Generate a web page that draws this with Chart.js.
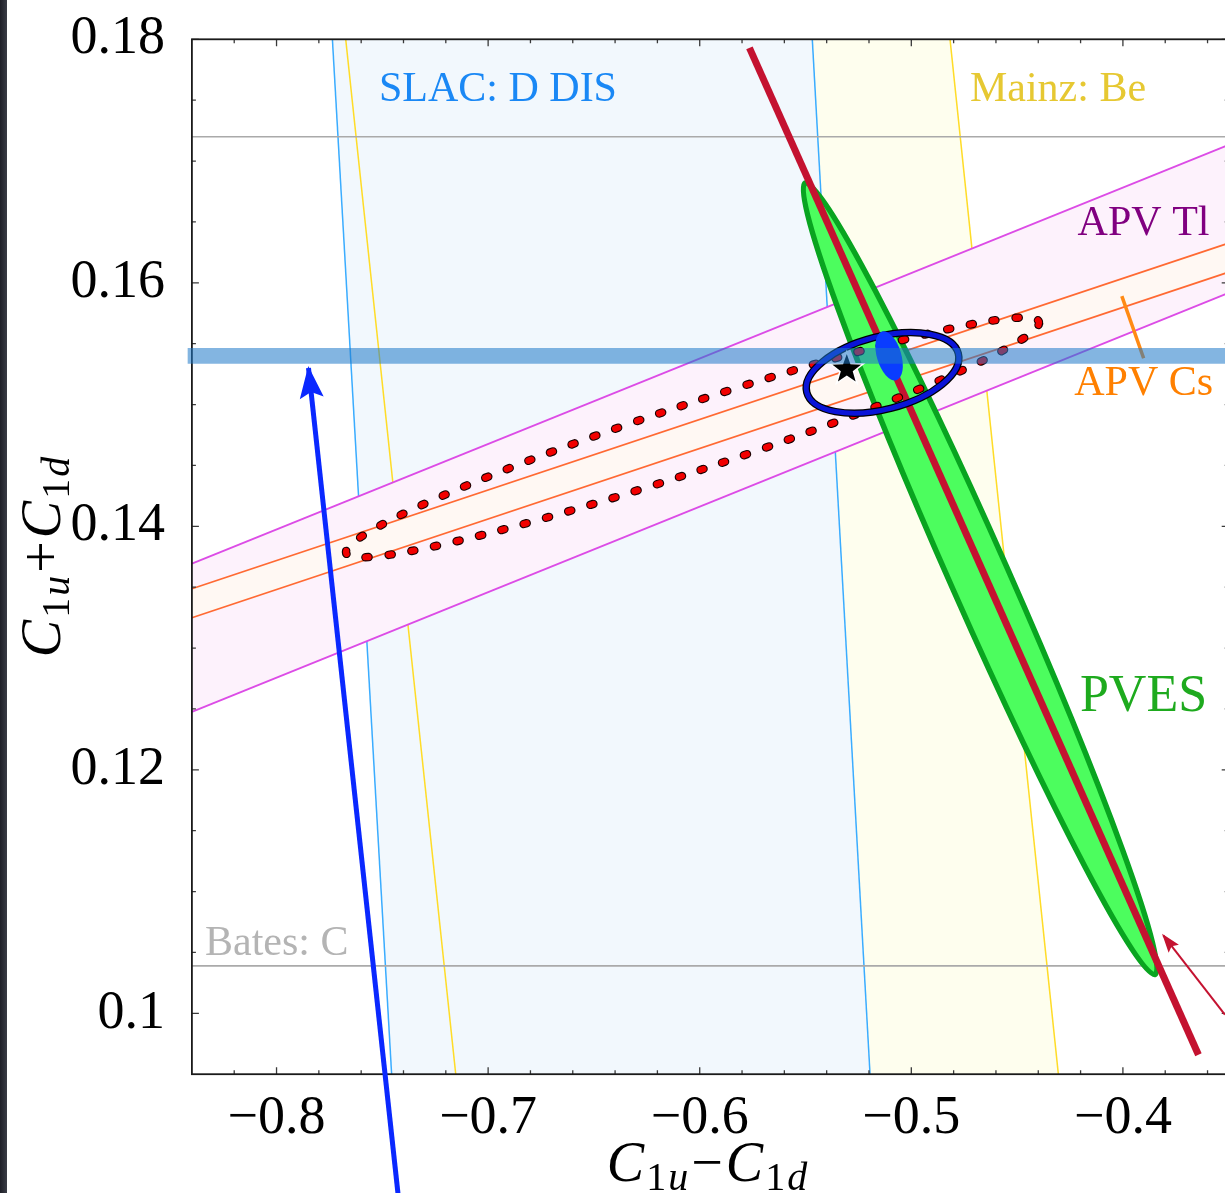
<!DOCTYPE html>
<html>
<head>
<meta charset="utf-8">
<title>C1u - C1d constraints</title>
<script src="https://cdn.jsdelivr.net/npm/chart.js"></script>
<style>
  html, body { margin: 0; padding: 0; overflow: hidden; background: #fff; }
  #wrap { position: relative; width: 1240px; height: 1193px; }
  #edge { position: absolute; left: 0; top: 0; width: 7px; height: 1193px;
          background: linear-gradient(to right, #1d1f27, #3a3d46); }
</style>
</head>
<body>
<div id="wrap">
  <canvas id="c1" width="1240" height="1193"></canvas>
  <div id="edge"></div>
</div>
<script>
// ================================
// Data
// ================================
const xRange = [-0.84, -0.35];
const yRange = [0.095, 0.18];
const xTicks = [-0.8, -0.7, -0.6, -0.5, -0.4];
const xTickLabels = ['\u22120.8', '\u22120.7', '\u22120.6', '\u22120.5', '\u22120.4'];
const yTicks = [0.1, 0.12, 0.14, 0.16, 0.18];
const yTickLabels = ['0.1', '0.12', '0.14', '0.16', '0.18'];
const xMinorTicks = [-0.82, -0.78, -0.76, -0.74, -0.72, -0.68, -0.66, -0.64, -0.62,
                     -0.58, -0.56, -0.54, -0.52, -0.48, -0.46, -0.44, -0.42, -0.38, -0.36];
const yMinorTicks = [0.105, 0.11, 0.115, 0.125, 0.13, 0.135, 0.145, 0.15, 0.155,
                     0.165, 0.17, 0.175];

// near-vertical bands: x at the top edge, x at the bottom edge
const slacLeft = [-0.7736, -0.7456];
const slacRight = [-0.5468, -0.5195];
const mainzLeft = [-0.7673, -0.7153];
const mainzRight = [-0.4817, -0.4305];

// sloped APV bands: y at the left edge, y at the right edge
const tlUpper = [0.13693, 0.17133];
const tlLower = [0.12476, 0.15917];
const csUpper = [0.13487, 0.16326];
const csLower = [0.13249, 0.16088];

const batesLines = [0.1720, 0.1039];
const bandY = 0.1540;                                   // wide blue horizontal band
const qweakLine = [[-0.5765, 0.1793], [-0.3643, 0.0966]];
const csMark = [[-0.4005, 0.1589], [-0.3902, 0.1538]];
const blueArrow = [[-0.7426, 0.0852], [-0.7849, 0.1530]];  // tail, tip
const redArrow = [[-0.3518, 0.0999], [-0.3809, 0.1064]];   // tail, tip

// ellipses: centre, end of major semi-axis, end of minor semi-axis
const pvesEllipse = [[-0.4675, 0.1357], [-0.5502, 0.1682], [-0.4550, 0.1367]];
const apvEllipse = [[-0.6034, 0.1473], [-0.4397, 0.1568], [-0.6084, 0.1499]];
const fitEllipse = [[-0.5136, 0.1526], [-0.4778, 0.1542], [-0.5177, 0.1555]];
const smEllipse = [[-0.5105, 0.1540], [-0.5139, 0.1560], [-0.5050, 0.1543]];
const smPoint = [-0.5305, 0.1529];

// annotation texts and where they sit (data coords of left baseline)
const labelTexts = ['SLAC: D DIS', 'Mainz: Be', 'APV Tl', 'APV Cs', 'PVES', 'Bates: C'];
const labelSpots = [[-0.7516, 0.1749], [-0.4723, 0.1749], [-0.4214, 0.1639],
                    [-0.4230, 0.1508], [-0.4203, 0.1248], [-0.8338, 0.1048]];
const labelColors = ['#1a88f5', '#e6c832', '#800080', '#ff8000', '#1eaa1e', '#b4b4b4'];
const labelSizes = [42, 42, 42, 42, 52, 42];

const SERIF = '"Liberation Serif", "DejaVu Serif", serif';

// ================================
// Helpers
// ================================
function pts(list) {
    return list.map(p => ({ x: p[0], y: p[1] }));
}

function line(points, color, width, extra) {
    return Object.assign({
        data: pts(points),
        borderColor: color,
        borderWidth: width,
        pointRadius: 0,
        fill: false,
        tension: 0
    }, extra || {});
}

function shape(points, color) {
    return {
        data: pts(points),
        borderColor: 'rgba(0,0,0,0)',
        borderWidth: 0,
        backgroundColor: color,
        pointRadius: 0,
        fill: 'shape',
        tension: 0
    };
}

function vBand(edge) {
    return [[edge[0], yRange[1]], [edge[1], yRange[0]]];
}
function sBand(edge) {
    return [[xRange[0], edge[0]], [xRange[1], edge[1]]];
}

function toPx(chart, p) {
    return [chart.scales.x.getPixelForValue(p[0]), chart.scales.y.getPixelForValue(p[1])];
}

function ellipsePath(ctx, chart, e) {
    const c = toPx(chart, e[0]);
    const a = toPx(chart, e[1]);
    const b = toPx(chart, e[2]);
    const ra = Math.hypot(a[0] - c[0], a[1] - c[1]);
    const rb = Math.hypot(b[0] - c[0], b[1] - c[1]);
    ctx.beginPath();
    ctx.ellipse(c[0], c[1], ra, rb, Math.atan2(a[1] - c[1], a[0] - c[0]), 0, Math.PI * 2);
}

function arrowHead(ctx, from, to, len, half, color) {
    const ang = Math.atan2(to[1] - from[1], to[0] - from[0]);
    ctx.save();
    ctx.translate(to[0], to[1]);
    ctx.rotate(ang);
    ctx.beginPath();
    ctx.moveTo(2, 0);
    ctx.lineTo(-len, -half);
    ctx.lineTo(-len * 0.8, 0);
    ctx.lineTo(-len, half);
    ctx.closePath();
    ctx.fillStyle = color;
    ctx.fill();
    ctx.restore();
}

function star(ctx, cx, cy, ro, ri) {
    ctx.beginPath();
    for (let i = 0; i < 10; i++) {
        const r = i % 2 ? ri : ro;
        const a = -Math.PI / 2 + i * Math.PI / 5;
        ctx.lineTo(cx + r * Math.cos(a), cy + r * Math.sin(a));
    }
    ctx.closePath();
}

function mathText(ctx, parts, cx, base) {
    let w = 0;
    parts.forEach(p => { ctx.font = p[1]; p.w = ctx.measureText(p[0]).width + (p[3] || 0); w += p.w; });
    let x = cx - w / 2;
    ctx.textAlign = 'left';
    ctx.textBaseline = 'alphabetic';
    parts.forEach(p => {
        ctx.font = p[1];
        ctx.fillText(p[0], x, base + (p[2] || 0));
        x += p.w;
    });
}

function titleParts(op) {
    const big = 'italic 56px ' + SERIF;
    const num = '40px ' + SERIF;
    const sub = 'italic 40px ' + SERIF;
    return [['C', big, 0, 2], ['1', num, 9, 2], ['u', sub, 9, 3], [op, '56px ' + SERIF, 0, 3],
            ['C', big, 0, 2], ['1', num, 9, 2], ['d', sub, 9, 0]];
}

// ================================
// Overlay drawing (shapes not covered by line datasets)
// ================================
const overlayPlugin = {
    id: 'overlay',
    afterDatasetDraw(chart, args) {
        const tag = chart.data.datasets[args.index].after;
        if (!tag) return;
        const ctx = chart.ctx;
        const area = chart.chartArea;
        ctx.save();
        if (tag === 'pves') {
            ctx.beginPath();
            ctx.rect(area.left, area.top, area.right - area.left, area.bottom - area.top);
            ctx.clip();
            ellipsePath(ctx, chart, pvesEllipse);
            ctx.fillStyle = '#4cfd5e';
            ctx.fill();
            ctx.strokeStyle = '#09a420';
            ctx.lineWidth = 5.5;
            ctx.stroke();
        } else if (tag === 'fits') {
            // dotted APV ellipse
            ellipsePath(ctx, chart, apvEllipse);
            ctx.setLineDash([3.2, 19.9]);
            ctx.lineCap = 'round';
            ctx.strokeStyle = '#1a0000';
            ctx.lineWidth = 8.5;
            ctx.stroke();
            ctx.strokeStyle = '#f20000';
            ctx.lineWidth = 6.2;
            ctx.stroke();
            ctx.setLineDash([]);
            // combined fit ellipse
            ellipsePath(ctx, chart, fitEllipse);
            ctx.strokeStyle = '#000';
            ctx.lineWidth = 7.5;
            ctx.stroke();
            ctx.strokeStyle = '#0a14d8';
            ctx.lineWidth = 5;
            ctx.stroke();
            // standard model point
            const s = toPx(chart, smPoint);
            star(ctx, s[0], s[1], 17.5, 7.2);
            ctx.fillStyle = '#000';
            ctx.fill();
            ctx.strokeStyle = '#fff';
            ctx.lineWidth = 1.6;
            ctx.stroke();
            // small filled ellipse
            ellipsePath(ctx, chart, smEllipse);
            ctx.fillStyle = '#0a3cff';
            ctx.fill();
        } else if (tag === 'frame') {
            drawFrame(chart);
        } else if (tag === 'blueArrow') {
            arrowHead(ctx, toPx(chart, blueArrow[0]), toPx(chart, blueArrow[1]), 30, 12, '#0a28ff');
        } else if (tag === 'redArrow') {
            arrowHead(ctx, toPx(chart, redArrow[0]), toPx(chart, redArrow[1]), 17, 6.5, '#c41230');
        }
        ctx.restore();
    },
    afterDatasetsDraw(chart) {
        const ctx = chart.ctx;
        ctx.save();
        ctx.textAlign = 'left';
        ctx.textBaseline = 'alphabetic';
        labelTexts.forEach((t, i) => {
            const p = toPx(chart, labelSpots[i]);
            ctx.font = labelSizes[i] + 'px ' + SERIF;
            ctx.fillStyle = labelColors[i];
            ctx.fillText(t, p[0], p[1]);
        });
        // axis titles
        ctx.fillStyle = '#000';
        mathText(ctx, titleParts('\u2212'), 707, 1181);
        ctx.save();
        ctx.translate(60, 557);
        ctx.rotate(-Math.PI / 2);
        mathText(ctx, titleParts('+'), 0, 0);
        ctx.restore();
        ctx.restore();
    }
};

function drawFrame(chart) {
    const ctx = chart.ctx;
    const a = chart.chartArea;
    const xs = chart.scales.x, ys = chart.scales.y;
    ctx.save();
    ctx.strokeStyle = '#3a3a3a';
    ctx.lineWidth = 1.3;
    ctx.beginPath();
    const tick = (vals, len, horiz) => {
        vals.forEach(v => {
            if (horiz) {
                const x = xs.getPixelForValue(v);
                ctx.moveTo(x, a.bottom); ctx.lineTo(x, a.bottom - len);
                ctx.moveTo(x, a.top); ctx.lineTo(x, a.top + len);
            } else {
                const y = ys.getPixelForValue(v);
                ctx.moveTo(a.left, y); ctx.lineTo(a.left + len, y);
                ctx.moveTo(a.right, y); ctx.lineTo(a.right - len, y);
            }
        });
    };
    tick(xTicks, 7, true);
    tick(xMinorTicks, 4, true);
    tick(yTicks, 7, false);
    tick(yMinorTicks, 4, false);
    ctx.stroke();
    ctx.strokeStyle = '#1a1a1a';
    ctx.lineWidth = 1.8;
    ctx.strokeRect(a.left, a.top, a.right - a.left, a.bottom - a.top);
    ctx.restore();
}

// ================================
// Datasets, bottom layer first
// ================================
const layers = [
    shape([[mainzLeft[0], yRange[1]], [mainzLeft[1], yRange[0]], [mainzRight[1], yRange[0]], [mainzRight[0], yRange[1]]], '#fefeee'),
    shape([[slacLeft[0], yRange[1]], [slacLeft[1], yRange[0]], [slacRight[1], yRange[0]], [slacRight[0], yRange[1]]], '#f2f8fd'),
    line(vBand(slacLeft), '#3aacff', 1.5),
    line(vBand(slacRight), '#3aacff', 1.5),
    line(vBand(mainzLeft), '#ffdc28', 1.5),
    line(vBand(mainzRight), '#ffdc28', 1.5),
    line([[xRange[0], batesLines[0]], [xRange[1], batesLines[0]]], '#aaaaaa', 1.6),
    line([[xRange[0], batesLines[1]], [xRange[1], batesLines[1]]], '#aaaaaa', 1.6),
    shape([[xRange[0], tlUpper[0]], [xRange[1], tlUpper[1]], [xRange[1], tlLower[1]], [xRange[0], tlLower[0]]], '#fdf2fc'),
    shape([[xRange[0], csUpper[0]], [xRange[1], csUpper[1]], [xRange[1], csLower[1]], [xRange[0], csLower[0]]], '#fff8f3'),
    line(sBand(tlUpper), '#dc4ce6', 1.8),
    line(sBand(tlLower), '#dc4ce6', 1.8),
    line(sBand(csUpper), '#ff6a33', 1.8),
    line(sBand(csLower), '#ff6a33', 1.8, { after: 'pves' }),
    line(qweakLine, '#c41230', 7, { after: 'fits' }),
    line(csMark, '#ff8a14', 3.5, { after: 'frame' }),
    line([[-0.842, bandY], [xRange[1], bandY]], 'rgba(30,120,200,0.55)', 15.6,
         { clip: { left: 8, top: 0, right: 0, bottom: 0 } }),
    line(blueArrow, '#0a28ff', 5, { clip: false, after: 'blueArrow' }),
    line(redArrow, '#c41230', 2, { after: 'redArrow' })
];
layers.forEach((d, i) => { d.order = layers.length - i; });

new Chart(document.getElementById('c1'), {
    type: 'line',
    data: { datasets: layers },
    options: {
        responsive: false,
        animation: false,
        events: [],
        layout: { padding: { top: 39.3, right: 11.3, left: 0, bottom: 0 } },
        plugins: { legend: { display: false }, tooltip: { enabled: false } },
        scales: {
            x: {
                type: 'linear',
                position: 'bottom',
                min: xRange[0],
                max: xRange[1],
                grid: { display: false },
                border: { display: false },
                afterBuildTicks: s => { s.ticks = xTicks.map(v => ({ value: v })); },
                afterFit: s => { s.height = 118.8; s.paddingLeft = 0; s.paddingRight = 0; },
                ticks: {
                    autoSkip: false,
                    maxRotation: 0,
                    padding: 4,
                    color: '#000',
                    font: { family: SERIF, size: 54 },
                    callback: (v, i) => xTickLabels[i]
                }
            },
            y: {
                type: 'linear',
                position: 'left',
                min: yRange[0],
                max: yRange[1],
                grid: { display: false },
                border: { display: false },
                afterBuildTicks: s => { s.ticks = yTicks.map(v => ({ value: v })); },
                afterFit: s => { s.width = 191.9; s.paddingTop = 0; s.paddingBottom = 0; },
                ticks: {
                    padding: 19,
                    color: '#000',
                    font: { family: SERIF, size: 54 },
                    callback: (v, i) => yTickLabels[i]
                }
            }
        }
    },
    plugins: [overlayPlugin]
});
</script>
</body>
</html>
